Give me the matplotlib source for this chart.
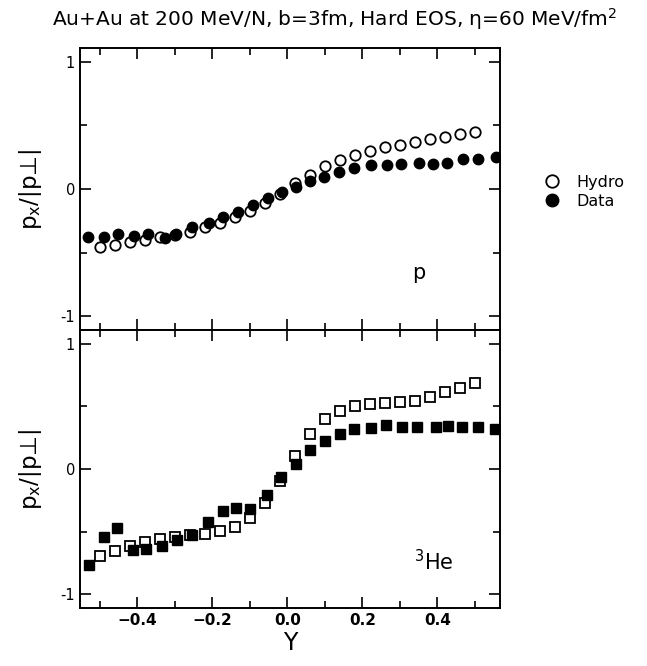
import matplotlib
matplotlib.use("Agg")
import matplotlib.pyplot as plt
from matplotlib.ticker import MultipleLocator, FixedLocator
from matplotlib.lines import Line2D

# ---- data: protons (top panel) ----
p_hydro_x = [-0.50, -0.46, -0.42, -0.38, -0.34, -0.30, -0.26, -0.22, -0.18, -0.14, -0.10, -0.06, -0.02,
             0.02, 0.06, 0.10, 0.14, 0.18, 0.22, 0.26, 0.30, 0.34, 0.38, 0.42, 0.46, 0.50]
p_hydro_y = [-0.46, -0.44, -0.42, -0.40, -0.376, -0.36, -0.337, -0.30, -0.27, -0.22, -0.17, -0.11, -0.04,
             0.045, 0.11, 0.18, 0.23, 0.27, 0.30, 0.33, 0.35, 0.37, 0.39, 0.41, 0.43, 0.45]
p_data_x = [-0.532, -0.49, -0.452, -0.408, -0.373, -0.327, -0.297, -0.255, -0.21, -0.173, -0.133, -0.093,
            -0.053, -0.015, 0.022, 0.059, 0.098, 0.138, 0.177, 0.222, 0.266, 0.302, 0.35, 0.389, 0.426,
            0.468, 0.508, 0.555]
p_data_y = [-0.376, -0.38, -0.353, -0.37, -0.358, -0.387, -0.355, -0.30, -0.266, -0.218, -0.179, -0.124,
            -0.068, -0.026, 0.018, 0.06, 0.097, 0.137, 0.163, 0.187, 0.19, 0.195, 0.203, 0.195, 0.208,
            0.237, 0.237, 0.25]

# ---- data: 3He (bottom panel) ----
he_hydro_x = p_hydro_x
he_hydro_y = [-0.692, -0.658, -0.618, -0.584, -0.558, -0.542, -0.526, -0.521, -0.495, -0.46, -0.389,
              -0.271, -0.097, 0.105, 0.282, 0.40, 0.466, 0.50, 0.518, 0.526, 0.532, 0.545, 0.571, 0.611,
              0.647, 0.684]
he_data_x = [-0.529, -0.489, -0.455, -0.413, -0.377, -0.335, -0.295, -0.255, -0.212, -0.173, -0.138, -0.10,
             -0.055, -0.018, 0.022, 0.06, 0.10, 0.139, 0.178, 0.223, 0.263, 0.305, 0.345, 0.396, 0.429,
             0.465, 0.509, 0.554]
he_data_y = [-0.763, -0.547, -0.474, -0.65, -0.637, -0.618, -0.566, -0.526, -0.421, -0.337, -0.31, -0.321,
             -0.205, -0.061, 0.039, 0.15, 0.224, 0.276, 0.316, 0.329, 0.355, 0.334, 0.334, 0.334, 0.347,
             0.334, 0.334, 0.321]

x_ticks = [-0.4, -0.2, 0.0, 0.2, 0.4]
x_ticklabels = ["\u22120.4", "\u22120.2", "0.0", "0.2", "0.4"]
y_ticks = [-1, 0, 1]
y_ticklabels = ["-1", "0", "1"]

title = "Au+Au at 200 MeV/N, b=3fm, Hard EOS, \u03b7=60 MeV/fm$^2$"
ylabel = "p$_\\mathregular{x}$/|p\u22a5|"

plt.rcParams['font.family'] = ['DejaVu Sans']
fig = plt.figure(figsize=(6.47, 6.66), dpi=100)
W, H = 647, 666
L, R = 80, 500
ax1 = fig.add_axes([L / W, 1 - 330 / H, (R - L) / W, 282 / H])
ax2 = fig.add_axes([L / W, 1 - 608 / H, (R - L) / W, 278 / H])

for ax in (ax1, ax2):
    ax.set_xlim(-0.553, 0.567)
    ax.set_ylim(-1.11, 1.11)
    ax.xaxis.set_major_locator(FixedLocator(x_ticks))
    ax.xaxis.set_minor_locator(MultipleLocator(0.1))
    ax.yaxis.set_major_locator(FixedLocator(y_ticks))
    ax.yaxis.set_minor_locator(MultipleLocator(0.5))
    ax.tick_params(which='both', direction='in', top=True, right=True, width=1.2)
    ax.tick_params(which='major', length=8, labelsize=10.5)
    ax.tick_params(which='minor', length=5)
    for s in ax.spines.values():
        s.set_linewidth(1.4)
    ax.set_yticks(y_ticks)
    ax.set_yticklabels(y_ticklabels)
    ax.set_ylabel(ylabel, fontsize=16.5, labelpad=12)

ax1.tick_params(labelbottom=False)
ax2.set_xticks(x_ticks)
ax2.set_xticklabels(x_ticklabels, fontweight='bold', fontsize=11)
ax2.set_xlabel("Y", fontsize=17, labelpad=2)

ax1.plot(p_hydro_x, p_hydro_y, 'o', mfc='white', mec='black', mew=1.3, ms=7.5, ls='none')
ax1.plot(p_data_x, p_data_y, 'o', mfc='black', mec='black', ms=7.5, ls='none')
ax2.plot(he_hydro_x, he_hydro_y, 's', mfc='white', mec='black', mew=1.3, ms=6.8, ls='none')
ax2.plot(he_data_x, he_data_y, 's', mfc='black', mec='black', ms=6.8, ls='none')

ax1.text(0.35, -0.66, "p", fontsize=15, ha='center', va='center')
ax2.text(0.39, -0.74, "$^3$He", fontsize=15, ha='center', va='center')

fig.text(335 / W, 1 - 19 / H, title, fontsize=14.5, ha='center', va='center')

handles = [Line2D([], [], marker='o', ls='none', mfc='white', mec='black', mew=1.3, ms=9),
           Line2D([], [], marker='o', ls='none', mfc='black', mec='black', ms=9)]
fig.legend(handles, ["Hydro", "Data"], loc='center left', bbox_to_anchor=(528 / W, 1 - 192 / H),
           frameon=False, fontsize=11.5, handletextpad=0.9, labelspacing=0.25, handlelength=1.2)

fig.savefig("out.png", dpi=100)
